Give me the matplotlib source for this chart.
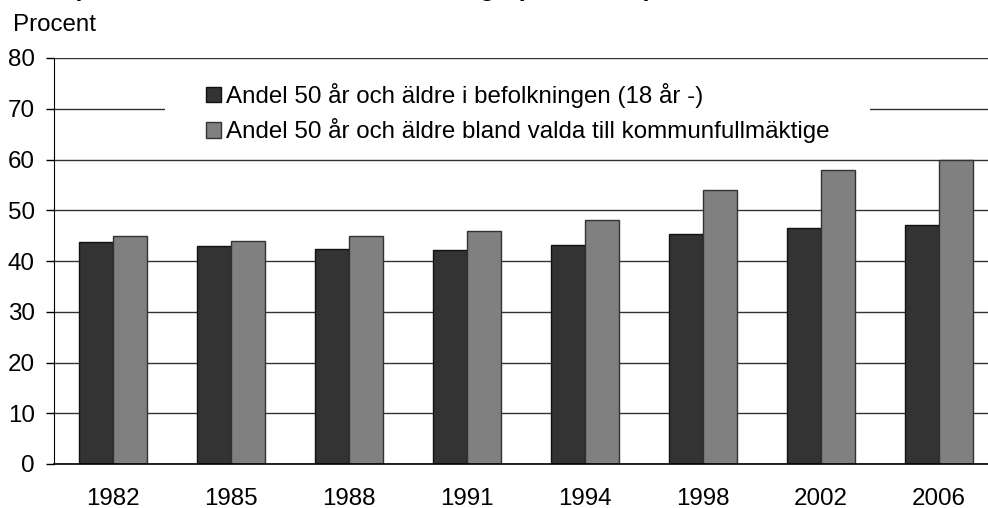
import matplotlib
matplotlib.use("Agg")
import matplotlib.pyplot as plt
from matplotlib.patches import Patch, Rectangle
import numpy as np

plt.rcParams['font.family'] = ['Liberation Sans', 'DejaVu Sans']

years = ["1982", "1985", "1988", "1991", "1994", "1998", "2002", "2006"]
befolkning = [43.7, 42.9, 42.4, 42.1, 43.2, 45.4, 46.6, 47.0]
valda = [45.0, 44.0, 45.0, 46.0, 48.0, 54.0, 58.0, 60.0]
series_labels = ["Andel 50 år och äldre i befolkningen (18 år -)",
                 "Andel 50 år och äldre bland valda till kommunfullmäktige"]
yticks = [0, 10, 20, 30, 40, 50, 60, 70, 80]

W, H = 988, 508
FS = 17.4
fig = plt.figure(figsize=(W / 100, H / 100), dpi=100)
ax = fig.add_axes([54 / W, 44 / H, (W - 54) / W, 406 / H])

x = np.arange(len(years))
bw = 0.288
c_dark, c_grey = "#333333", "#808080"
ax.bar(x - bw / 2, befolkning, bw, color=c_dark, edgecolor="#111111", linewidth=1, zorder=2)
ax.bar(x + bw / 2, valda, bw, color=c_grey, edgecolor="#333333", linewidth=1, zorder=2)

ax.set_xlim(-0.5, 7.415)
ax.set_ylim(0, 80)
ax.set_yticks(yticks)
ax.set_xticks(x)
ax.set_xticklabels(years)
ax.tick_params(axis="x", length=0, pad=17, labelsize=FS)
ax.tick_params(axis="y", length=5.5, width=1, pad=8.5, labelsize=FS, direction="out")

ax.set_axisbelow(True)
ax.yaxis.grid(True, color="#333333", linewidth=1)
for s in ["top", "right"]:
    ax.spines[s].set_visible(False)
ax.spines["left"].set_color("black")
ax.spines["bottom"].set_color("black")
ax.spines["bottom"].set_linewidth(1.2)

# white backing behind legend (covers gridline at 70)
ax.add_patch(Rectangle((0.44, 63), 5.975, 15, facecolor="white", edgecolor="none",
                       zorder=1, transform=ax.transData))

handles = [Patch(facecolor=c_dark, edgecolor="#111111"),
           Patch(facecolor=c_grey, edgecolor="#333333")]
leg = ax.legend(handles, series_labels, loc="upper left",
                bbox_to_anchor=(206 / W, 1 - 83 / H), bbox_transform=fig.transFigure,
                frameon=False, fontsize=FS, handlelength=0.63, handleheight=0.63,
                handletextpad=0.2, labelspacing=0.42, borderpad=0, borderaxespad=0)

fig.text(13 / W, 1 - 31 / H, "Procent", fontsize=FS, ha="left", va="baseline")
fig.text(652 / W, 1 + 4 / H, "Andel politiker 50 år och äldre i fullmäktige (1982-2006)",
         fontsize=18, fontweight="bold", ha="right", va="baseline")

fig.savefig("out.png", dpi=100)
